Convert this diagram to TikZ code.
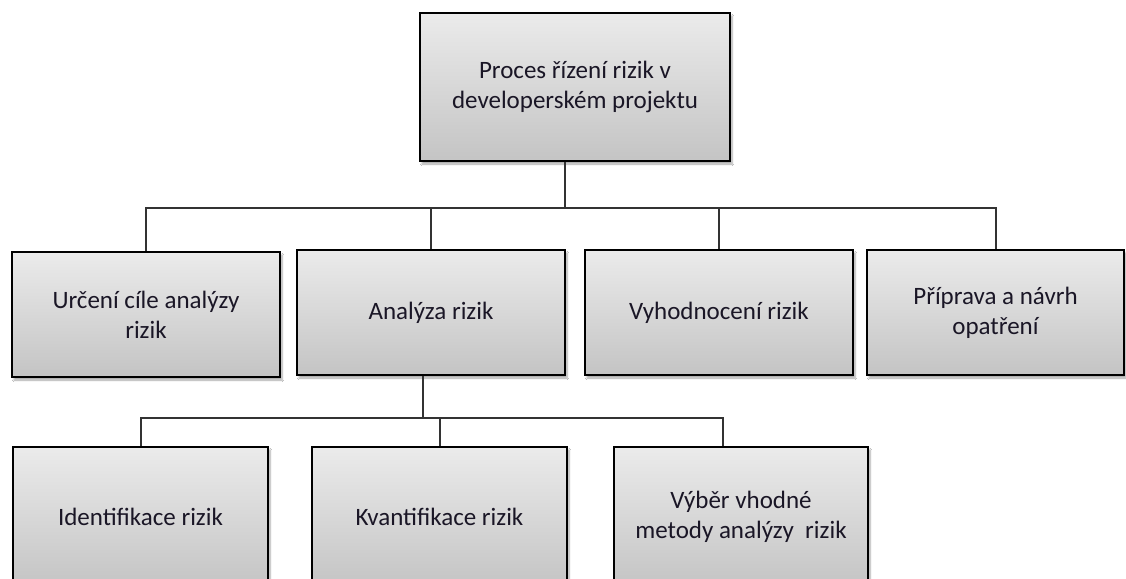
\documentclass[tikz,border=0pt]{standalone}
\usepackage{fontspec}
\setmainfont{Carlito}
\usetikzlibrary{shadows.blur}
\definecolor{boxtop}{HTML}{EBEBEB}
\definecolor{boxbot}{HTML}{C4C4C4}
\definecolor{linec}{HTML}{333333}
\definecolor{textc}{HTML}{1A1626}
\tikzset{
  box/.style={draw=black, line width=2pt, top color=boxtop, bottom color=boxbot,
    align=center, text=textc, inner sep=0pt,
    font=\fontsize{25}{30}\selectfont,
    blur shadow={shadow xshift=2pt, shadow yshift=-3pt, shadow opacity=35, shadow blur steps=6}},
  conn/.style={draw=linec, line width=2pt}
}
\begin{document}
\begin{tikzpicture}[x=1pt,y=-1pt]
\fill[white] (0,0) rectangle (1126,578);
\useasboundingbox (0,0) rectangle (1126,578);
\begin{scope}
\clip (0,0) rectangle (1126,578);
% top
\node[box, minimum width=310pt, minimum height=148pt] (top) at (575,87) {Proces řízení rizik v\\developerském projektu};
% row 2
\node[box, minimum width=268pt, minimum height=125pt] (u) at (146,314.5) {Určení cíle analýzy\\rizik};
\node[box, minimum width=268pt, minimum height=125pt] (a) at (431,312.5) {Analýza rizik};
\node[box, minimum width=268pt, minimum height=125pt] (v) at (719,312.5) {Vyhodnocení rizik};
\node[box, minimum width=257pt, minimum height=125pt] (p) at (995.5,312.5) {Příprava a návrh\\opatření};
% row 3
\node[box, minimum width=255pt, minimum height=140pt] (i) at (140.5,517) {Identifikace rizik};
\node[box, minimum width=255pt, minimum height=140pt] (k) at (439.5,517) {Kvantifikace rizik};
\node[box, minimum width=254pt, minimum height=140pt] (m) at (741,517) {Výběr vhodné\\metody analýzy~ rizik};
% connectors
\coordinate (j1) at (565,208);
\draw[conn] (j1 |- top.south) -- (j1);
\draw[conn] (u.north) |- (j1) -| (p.north);
\draw[conn] (a.north) -- (a.north |- j1);
\draw[conn] (v.north) -- (v.north |- j1);
\coordinate (j2) at (423,418);
\coordinate (j3) at (723,418);
\draw[conn] (j2 |- a.south) -- (j2);
\draw[conn] (i.north) |- (j3) -- (j3 |- m.north);
\draw[conn] (k.north) -- (k.north |- j2);
\end{scope}
\end{tikzpicture}
\end{document}
